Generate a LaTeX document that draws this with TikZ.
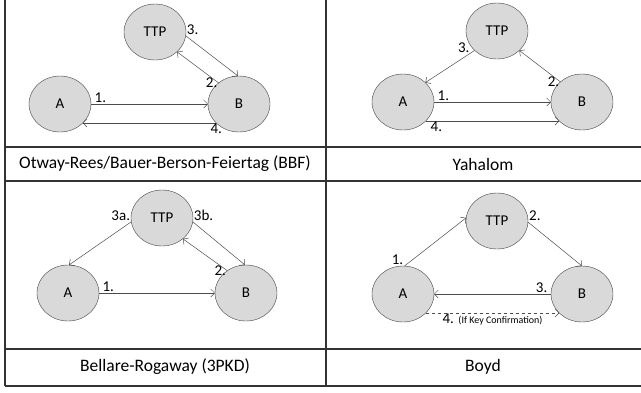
\documentclass[tikz,border=0pt]{standalone}
\usepackage{fontspec}
\setmainfont{Carlito}
\usetikzlibrary{positioning,calc,arrows,arrows.meta,shapes,shapes.geometric}
\tikzset{party/.style={ellipse, draw=black!75, fill=black!15, minimum width=62pt, minimum height=56pt, inner sep=0pt, outer sep=0pt, font=\fontsize{15}{17}\selectfont}}
\tikzset{msg/.style={draw=black!70, ->, >={Straight Barb[length=4pt,width=8pt]}, line width=0.5pt}}
\tikzset{lbl/.style={inner sep=1pt, font=\fontsize{15}{17}\selectfont}}
\tikzset{rule/.style={draw=black!80, line width=1.2pt}}
\tikzset{captext/.style={font=\fontsize{17.5}{20}\selectfont}}

\begin{document}
\begin{tikzpicture}[x=1pt, y=-1pt]
			\useasboundingbox (0,0) rectangle (641,392);
			% table
			\draw[rule] (5,0) -- (5,386);
			\draw[rule] (326,0) -- (326,386);
			\draw[rule] (5,147) -- (641,147);
			\draw[rule] (5,181) -- (641,181);
			\draw[rule] (5,349) -- (641,349);
			\draw[rule] (5,386) -- (641,386);
			%
			% Otway-Rees / BBF
			\node[party] (ttp1) at (155,32) {TTP};
			\node[party] (a1) at (60,104) {A};
			\node[party, right=117pt of a1] (b1) {B};
			\draw[msg] (a1) --
				node[lbl, pos=0.08, above] {1.} (b1);
			\draw[msg] (b1.134) --
				node[lbl, pos=0, left] {2.} (ttp1.-42);
			\draw[msg] (ttp1.-7) --
				node[lbl, pos=0, above right] {3.} (b1.92);
			\draw[msg] (b1.220) --
				node[lbl, pos=0, below] {4.} (a1.-40);
			\node[captext] (cap1) at (165,164) {Otway-Rees/Bauer-Berson-Feiertag (BBF)};
			%
			% Yahalom
			\node[party] (ttp2) at (497,31) {TTP};
			\node[party] (a2) at (403,102) {A};
			\node[party, right=117pt of a2] (b2) {B};
			\draw[msg] (a2) --
				node[lbl, pos=0.08, above] {1.} (b2);
			\draw[msg] (b2.137) --
				node[lbl, pos=0, left] {2.} (ttp2.-41);
			\draw[msg] (ttp2.221) --
				node[lbl, pos=0, above left=-3pt and 4pt] {3.} (a2.41);
			\draw[msg] (a2.-40) --
				node[lbl, pos=0.08, below] {4.} (b2.220);
			\node[captext] (cap2) at (483,164) {Yahalom};
			%
			% Bellare-Rogaway
			\node[party] (ttp3) at (162,218) {TTP};
			\node[party] (a3) at (68,293) {A};
			\node[party, right=116pt of a3] (b3) {B};
			\draw[msg] (a3) --
				node[lbl, pos=0.08, above] {1.} (b3);
			\draw[msg] (b3.130) --
				node[lbl, pos=0, left] {2.} (ttp3.-45);
			\draw[msg] (ttp3.187) --
				node[lbl, pos=0, above left] {3a.} (a3.88);
			\draw[msg] (ttp3.-7) --
				node[lbl, pos=0, above right] {3b.} (b3.92);
			\node[captext] (cap3) at (165,367) {Bellare-Rogaway (3PKD)};
			%
			% Boyd
			\node[party] (ttp4) at (497,221) {TTP};
			\node[party] (a4) at (403,294) {A};
			\node[party, right=117pt of a4] (b4) {B};
			\draw[msg] (a4.87) --
				node[lbl, pos=0, above left] {1.} (ttp4.174);
			\draw[msg] (ttp4.-2) --
				node[lbl, pos=0, above right] {2.} (b4.90);
			\draw[msg] (b4) --
				node[lbl, pos=0.08, above] {3.} (a4);
			\draw[msg, dashed] (a4.-40) --
				node[lbl, midway, below] {4. {\fontsize{10}{12}\selectfont (If Key Confirmation)}} (b4.220);
			\node[captext] (cap4) at (483,367) {Boyd};
		\end{tikzpicture}
\end{document}
